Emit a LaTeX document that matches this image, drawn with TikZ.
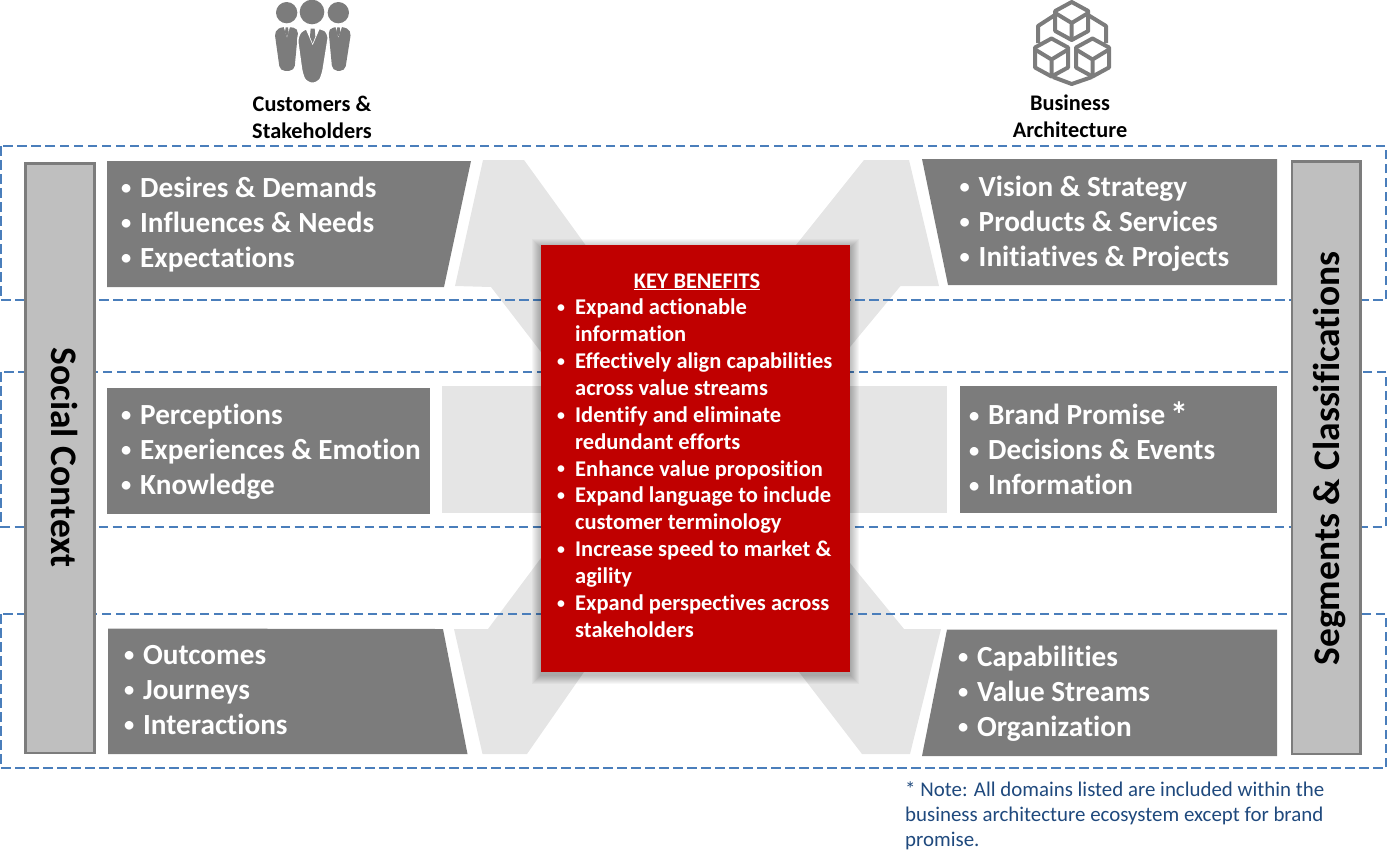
\documentclass[tikz,border=0pt]{standalone}
\usepackage{graphicx}
\usepackage{fontspec}
\setmainfont{Carlito}[Ligatures=NoCommon]
\usetikzlibrary{calc}
\definecolor{dashblue}{HTML}{4A7EBB}
\definecolor{slab}{HTML}{7C7C7C}
\definecolor{bar}{HTML}{BFBFBF}
\definecolor{pale}{HTML}{E5E5E5}
\definecolor{keyred}{HTML}{C00000}
\definecolor{notecol}{HTML}{1F497D}
\newcommand{\bul}[1]{\makebox[#1][l]{\raisebox{0.1em}{\scalebox{0.7}{\textbullet}}}}
\newcommand{\rl}{\bul{18pt}}
\newcommand{\rc}{\hspace*{18pt}}
\newcommand{\gl}{\bul{19pt}}
\tikzset{
  band/.style={draw=dashblue,line width=2pt,dash pattern=on 9.5pt off 4.5pt},
  arrowshape/.style={fill=pale,draw=none},
  slabshape/.style={fill=slab,draw=none},
  sidebar/.style={fill=bar,draw=slab,line width=2.5pt},
  listtext/.style={anchor=north west,inner sep=0pt,align=left,text=white,font=\fontsize{29.2}{35}\selectfont\bfseries},
  headtext/.style={anchor=center,inner sep=0pt,align=center,text=black,font=\fontsize{22.3}{27}\selectfont\bfseries},
  sidetext/.style={anchor=center,inner sep=0pt,text=black,font=\fontsize{37.5}{40}\selectfont\bfseries},
  redtext/.style={anchor=north west,inner sep=0pt,align=left,text=white,font=\fontsize{22.5}{26.85}\selectfont\bfseries},
  icon/.style={fill=slab,draw=none},
  cubeline/.style={draw=slab,line width=4pt,line join=round},
}
\newcommand{\cubeicon}[2]{%
  \draw[cubeline] (#1,#2-19) -- (#1+16.5,#2-10) -- (#1+16.5,#2+10) -- (#1,#2+19) -- (#1-16.5,#2+10) -- (#1-16.5,#2-10) -- cycle;
  \draw[cubeline] (#1-16.5,#2-8) -- (#1,#2+2) -- (#1+16.5,#2-8) (#1,#2+2) -- (#1,#2+19);
}
\begin{document}
\begin{tikzpicture}[x=1pt,y=-1pt]
\useasboundingbox (0,0) rectangle (1388,865);
% pale arrows
\fill[arrowshape] (483,160) -- (524,160) -- (600,265) -- (600,400) -- (541,352) -- (491,287) -- (455,286) -- cycle;
\fill[arrowshape] (864,160) -- (909,160) -- (939,286) -- (900.5,286) -- (850,347) -- (780,345) -- (780,265) -- cycle;
\fill[arrowshape] (442,386) rectangle (600,513);
\fill[arrowshape] (780,386) rectangle (947,513);
\fill[arrowshape] (454,629) -- (488,629) -- (541,558) -- (600,560) -- (600,650) -- (584,672) -- (527,754) -- (482.5,754) -- cycle;
\fill[arrowshape] (904,629) -- (941,629) -- (910,754) -- (862,754) -- (799,672) -- (780,640) -- (780,560) -- (850,563) -- cycle;
% dashed bands
\draw[band] (1,146) rectangle (1386,300);
\draw[band] (1,372) rectangle (1386,526.5);
\draw[band] (1,614) rectangle (1386,768);
% side bars
\draw[sidebar] (25.5,163.5) rectangle (94.5,753);
\draw[sidebar] (1292,161.5) rectangle (1360.5,754);
\node[sidetext,rotate=-90] (social) at (65,457.5) {Social Context};
\node[sidetext,rotate=90] (segments) at (1329,458.5) {Segments \& Classifications};
% dark slabs
\fill[slabshape] (107,161) -- (471,161) -- (444,287) -- (107,287) -- cycle;
\fill[slabshape] (922,159) -- (1277,159) -- (1277,285) -- (948,285) -- cycle;
\fill[slabshape] (107,388) rectangle (430,514);
\fill[slabshape] (959.5,386) rectangle (1277,513);
\fill[slabshape] (108,628.5) -- (443,629) -- (467.5,754) -- (108,754) -- cycle;
\fill[slabshape] (947,629.5) -- (1277,629.5) -- (1277,756) -- (922,756) -- cycle;
% slab texts
\node[listtext] (tl) at (121,177) {\gl Desires \& Demands\\\gl Influences \& Needs\\\gl Expectations};
\node[listtext] (tr) at (959.5,176) {\gl Vision \& Strategy\\\gl Products \& Services\\\gl Initiatives \& Projects};
\node[listtext] (ml) at (121,404) {\gl Perceptions\\\gl Experiences \& Emotion\\\gl Knowledge};
\node[listtext] (mr) at (969,402) {\gl Brand Promise\,{\fontsize{36}{35}\selectfont\raisebox{-3pt}{*}}\\\gl Decisions \& Events\\\gl Information};
\node[listtext] (bl) at (124,645) {\gl Outcomes\\\gl Journeys\\\gl Interactions};
\node[listtext] (br) at (958,646) {\gl Capabilities\\\gl Value Streams\\\gl Organization};
% red panel with shadow
\foreach \s in {9,8,...,1}{\fill[black,opacity=0.03] (541-\s,245-\s+3) rectangle (850+\s,671.5+\s+3);}
\fill[keyred] (541,245) rectangle (850,671.5);
\node[inner sep=0pt,anchor=base,text=white,font=\fontsize{22.3}{26.85}\selectfont\bfseries] (keyhead) at (697,288) {\underline{KEY BENEFITS}};
\node[redtext] (benefits) at (557,299) {\rl Expand actionable\\\rc information\\\rl Effectively align capabilities\\\rc across value streams\\\rl Identify and eliminate\\\rc redundant efforts\\\rl Enhance value proposition\\\rl Expand language to include\\\rc customer terminology\\\rl Increase speed to market \&\\\rc agility\\\rl Expand perspectives across\\\rc stakeholders};
% headings
\node[headtext] (cust) at (312,117) {Customers \&\\Stakeholders};
\node[headtext] (ba) at (1070,116) {Business\\Architecture};
% people icon
\begin{scope}[shift={(265,0)},x=0.3333pt,y=-0.3333pt]
\fill[icon] (65,38) circle (32);
\fill[icon] (141,36) circle (37);
\fill[icon] (220,38) circle (32);
\fill[icon,rounded corners=5pt] (28,92) -- (55,79) -- (100,85) -- (88,212) -- (45,213) -- cycle;
\fill[icon,rounded corners=5pt] (190,85) -- (232,79) -- (259,92) -- (240,213) -- (202,212) -- cycle;
\fill[white] (55,77) -- (76,77) -- (66,112) -- cycle;
\fill[white] (211,77) -- (232,77) -- (220,112) -- cycle;
\fill[icon] (62,82) -- (69,82) -- (71,97) -- (66,110) -- (60,97) -- cycle;
\fill[icon] (217,82) -- (224,82) -- (226,97) -- (220,110) -- (214,97) -- cycle;
\fill[icon,draw=white,line width=1.5pt,rounded corners=6pt] (96,110) -- (118,84) -- (170,84) -- (192,100) -- (172,225) -- (160,250) -- (125,250) -- (112,225) -- cycle;
\fill[white] (120,82) -- (166,82) -- (143,135) -- cycle;
\fill[icon] (137,86) -- (149,86) -- (151,110) -- (143,130) -- (135,110) -- cycle;
\end{scope}
% cubes icon
\draw[cubeline] (1055,15) -- (1038,26) -- (1038,43);
\draw[cubeline] (1088,15) -- (1106,26) -- (1106,43);
\draw[cubeline] (1053,77) -- (1071.7,84) -- (1092,77);
\cubeicon{1071.7}{21}
\cubeicon{1051.5}{57.5}
\cubeicon{1092.5}{57.5}
% note
\node[anchor=north west,inner sep=0pt,align=left,text=notecol,font=\fontsize{20.9}{25}\selectfont] (note) at (905,781.5) {* Note: All domains listed are included within the\\business architecture ecosystem except for brand\\promise.};
\end{tikzpicture}
\end{document}
